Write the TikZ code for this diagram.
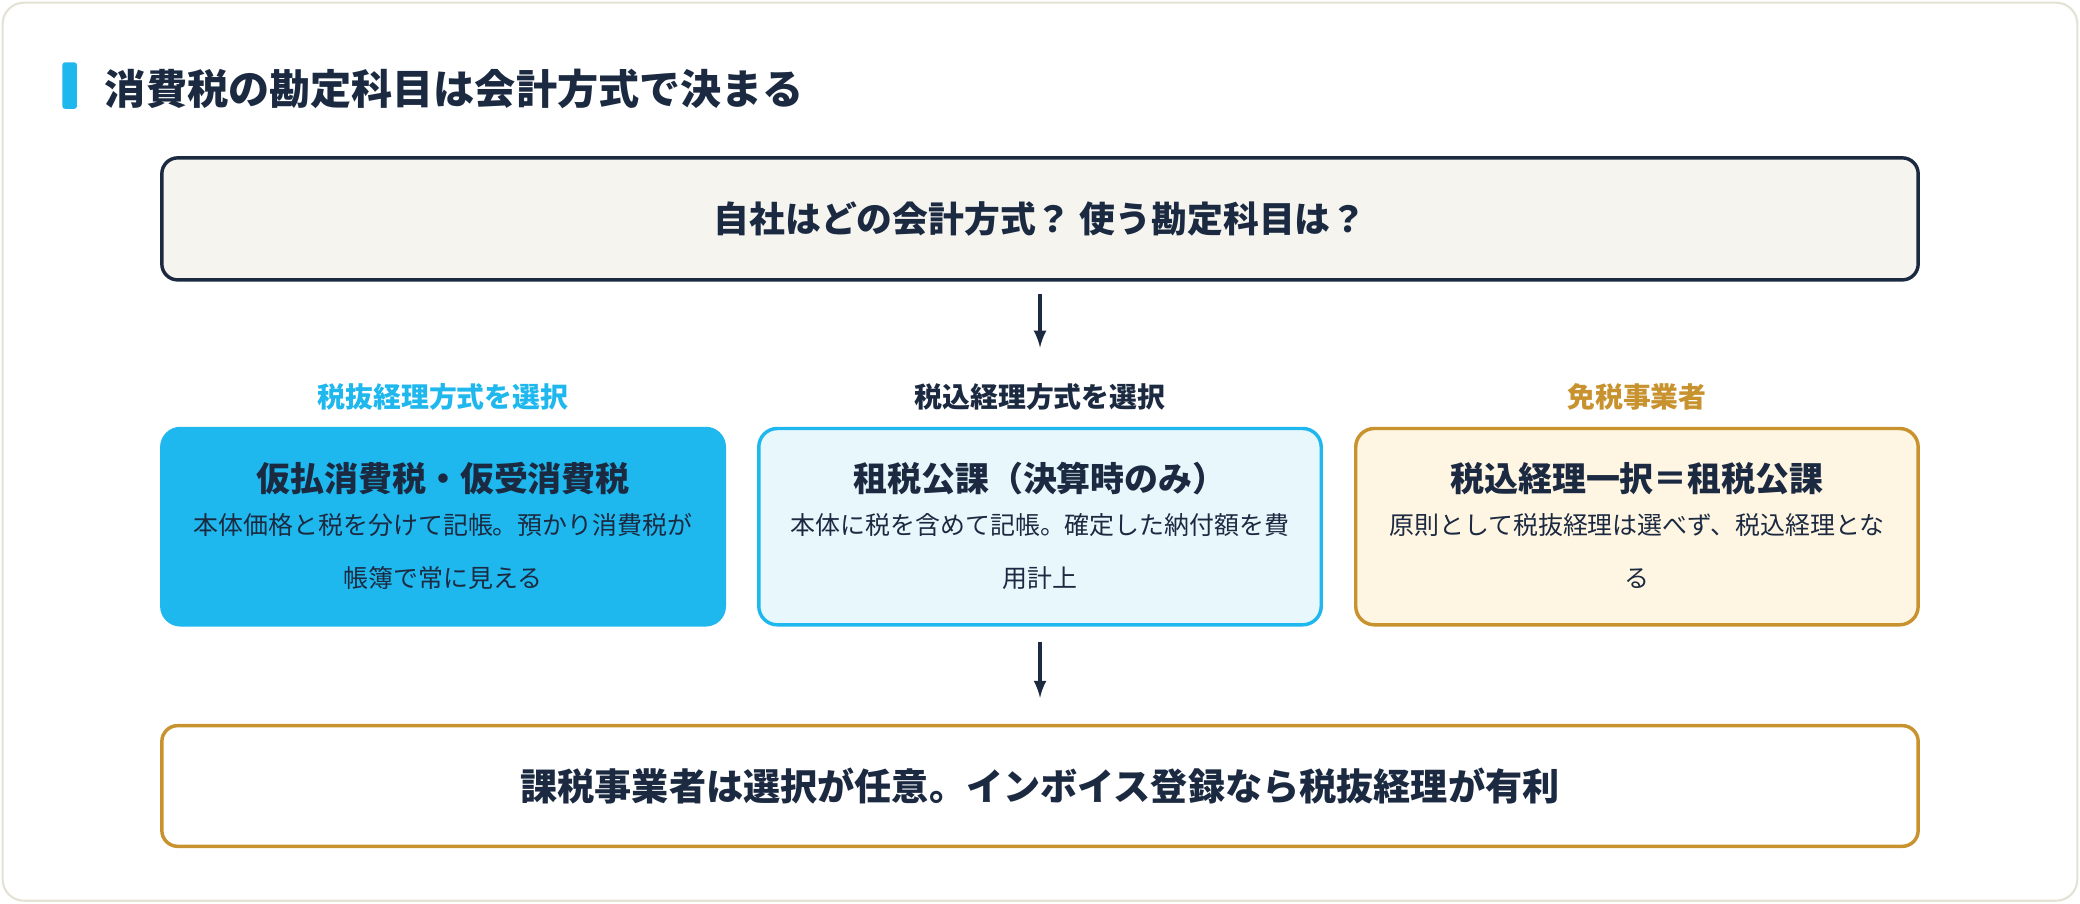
\documentclass[tikz,border=0pt]{standalone}
\usepackage{fontspec}
\setmainfont{Noto Sans CJK JP}
\usetikzlibrary{positioning}
\definecolor{navy}{HTML}{1B2A41}
\definecolor{sky}{HTML}{1EB8EE}
\definecolor{skypale}{HTML}{E8F7FC}
\definecolor{gold}{HTML}{C8922E}
\definecolor{goldpale}{HTML}{FFF5E3}
\definecolor{paper}{HTML}{F5F4EF}
\definecolor{frame}{HTML}{E4E2D4}
\tikzset{
  box/.style={draw, rounded corners=6pt, line width=1.3pt, text=navy},
  card/.style={box, minimum width=212pt, minimum height=74pt, rounded corners=7pt},
  head/.style={font=\bfseries\fontsize{10.5}{12}\selectfont, anchor=center},
  ctitle/.style={font=\bfseries\fontsize{12.8}{14}\selectfont, text=navy},
  cbody/.style={font=\fontsize{9.4}{20}\selectfont, align=center, text=navy},
  arr/.style={-latex, line width=1.2pt, draw=navy}
}
\begin{document}
\begin{tikzpicture}[x=0.5pt, y=-0.5pt]
  \useasboundingbox (0,0) rectangle (1568,681);
  \draw[frame, fill=white, rounded corners=8pt, line width=0.8pt] (2,2) rectangle (1566,679);
  \fill[sky, rounded corners=1pt] (47,47) rectangle (58,82);
  \node[anchor=west, font=\bfseries\fontsize{15.5}{17}\selectfont, text=navy] (title) at (72,67) {消費税の勘定科目は会計方式で決まる};
  % question
  \node[box, fill=paper, draw=navy, minimum width=662pt, minimum height=46pt, font=\bfseries\fontsize{13.5}{15}\selectfont] (q) at (784,165) {自社はどの会計方式？ 使う勘定科目は？};
  \coordinate (a1) at (784,262);
  \draw[arr] (784,222) -- (a1);
  % heads
  \node[head, text=sky] (h1) at (334,299) {税抜経理方式を選択};
  \node[head, text=navy] (h2) at (784,299) {税込経理方式を選択};
  \node[head, text=gold] (h3) at (1234,299) {免税事業者};
  % cards
  \node[card, fill=sky, draw=sky] (c1) at (334,397) {};
  \node[card, fill=skypale, draw=sky] (c2) at (784,397) {};
  \node[card, fill=goldpale, draw=gold] (c3) at (1234,397) {};
  \node[ctitle] (t1) at (334,361) {仮払消費税・仮受消費税};
  \node[ctitle] (t2) at (784,361) {租税公課（決算時のみ）};
  \node[ctitle] (t3) at (1234,361) {税込経理一択＝租税公課};
  \node[cbody, anchor=north] (b1) at (334,380) {本体価格と税を分けて記帳。預かり消費税が\\帳簿で常に見える};
  \node[cbody, anchor=north] (b2) at (784,380) {本体に税を含めて記帳。確定した納付額を費\\用計上};
  \node[cbody, anchor=north] (b3) at (1234,380) {原則として税抜経理は選べず、税込経理とな\\る};
  % result
  \node[box, fill=white, draw=gold, minimum width=662pt, minimum height=45.5pt, font=\bfseries\fontsize{14}{16}\selectfont] (r) at (784,592.5) {課税事業者は選択が任意。インボイス登録なら税抜経理が有利};
  \coordinate (a2) at (784,484);
  \draw[arr] (a2) -- (784,526);
\end{tikzpicture}
\end{document}
